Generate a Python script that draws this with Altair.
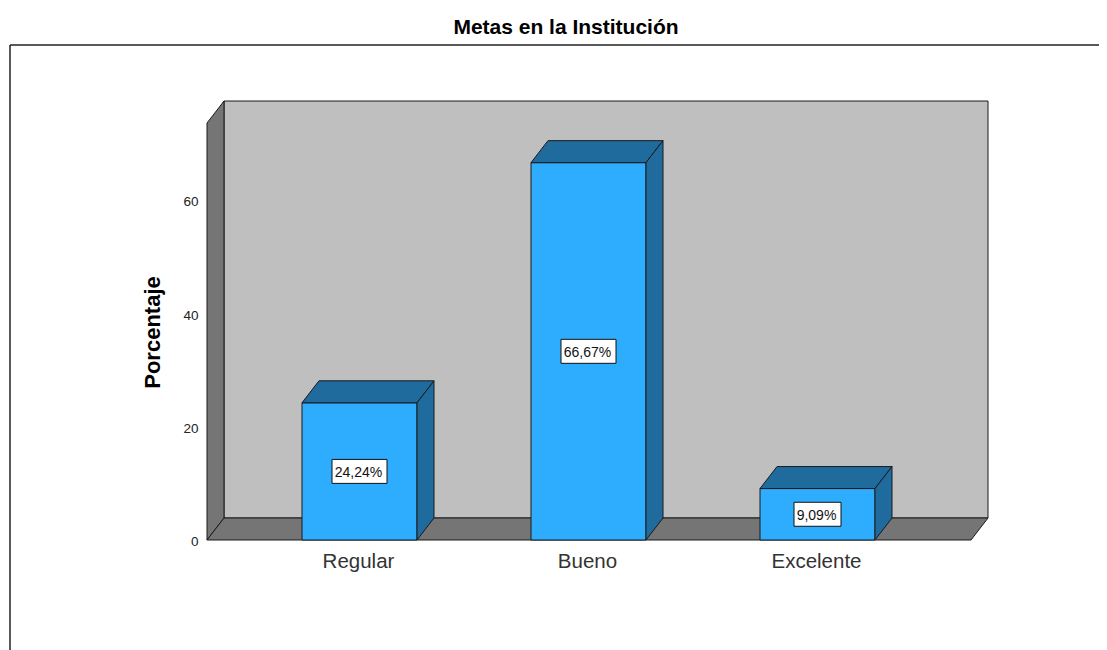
import json
import altair as alt
import pandas as pd

categories = ["Regular", "Bueno", "Excelente"]
percentages = [24.24, 66.67, 9.09]
y_ticks = [0, 20, 40, 60]

# Scale set-up: one category slot = 229 px, one percent = 5.66 px
SLOT = 229.0
UNIT = 5.66
W, H = 1089, 605
x_dom = [(10 - 359.5) / SLOT, (1099 - 359.5) / SLOT]
y_dom = [-(650 - 540) / UNIT, (540 - 45) / UNIT]
dx = 17 / SLOT
dy = 22 / UNIT
half = 57.5 / SLOT
wall_l = (207 - 359.5) / SLOT
wall_r = (971 - 359.5) / SLOT
wall_top = 73.67

xs = alt.Scale(domain=x_dom, nice=False, zero=False)
ys = alt.Scale(domain=y_dom, nice=False, zero=False)
EDGE = "#1a1a1a"
FONT = "Liberation Sans"

x_axis = alt.Axis(
    values=[0, 1, 2], ticks=False, domain=False, grid=False, offset=-100,
    labelExpr=f"{json.dumps(categories)}[datum.value]",
    labelFont=FONT, labelFontSize=20.5, labelColor="#333333", labelPadding=1,
    labelOverlap=False, labelOffset=-1.5,
)
y_axis = alt.Axis(
    values=y_ticks, ticks=False, domain=False, grid=False, offset=-193,
    labelFont=FONT, labelFontSize=13.5, labelColor="#222222", labelPadding=5, labelOffset=1.5,
    titleFont=FONT, titleFontSize=22, titleFontWeight="bold", titleColor="#000000",
    titleX=-39, titleY=287, titleAngle=270,
)


def X(f="x"):
    return alt.X(f"{f}:Q", scale=xs, axis=x_axis, title=None)


def Y(f="y"):
    return alt.Y(f"{f}:Q", scale=ys, axis=y_axis, title="Porcentaje")


def side_rows(name, x0, top, bottom=0.0):
    return [
        {"id": name, "x": x0, "y": top, "y2": bottom},
        {"id": name, "x": x0 + dx, "y": top + dy, "y2": bottom + dy},
    ]


def top_rows(name, x0, x1, v):
    return [
        {"id": name, "y": v, "x": x0, "x2": x1},
        {"id": name, "y": v + dy, "x": x0 + dx, "x2": x1 + dx},
    ]


def vert_area(rows, fill):
    return alt.Chart(pd.DataFrame(rows)).mark_area(
        fill=fill, stroke=EDGE, strokeWidth=1, opacity=1, line=False
    ).encode(x=X(), y=Y(), y2=alt.Y2("y2:Q"), detail="id:N")


def horiz_area(rows, fill):
    return alt.Chart(pd.DataFrame(rows)).mark_area(
        orient="horizontal", fill=fill, stroke=EDGE, strokeWidth=1, opacity=1, line=False
    ).encode(y=Y(), x=X(), x2=alt.X2("x2:Q"), detail="id:N")


back = alt.Chart(pd.DataFrame({"x": [wall_l + dx], "x2": [wall_r + dx], "y": [wall_top + dy], "y2": [dy]})).mark_rect(
    fill="#bfbfbf", stroke=EDGE, strokeWidth=1
).encode(x=X(), x2="x2:Q", y=Y(), y2="y2:Q")

left_wall = vert_area(side_rows("wall", wall_l, wall_top), "#757575")
floor = horiz_area(top_rows("floor", wall_l, wall_r, 0.0), "#757575")

bars_df = pd.DataFrame({
    "x": [i - half for i in range(3)],
    "x2": [i + half for i in range(3)],
    "y": percentages,
    "y2": [0.0] * 3,
})
fronts = alt.Chart(bars_df).mark_rect(fill="#2eadff", stroke=EDGE, strokeWidth=1).encode(
    x=X(), x2="x2:Q", y=Y(), y2="y2:Q"
)
tops_rows, sides_rows = [], []
for i, v in enumerate(percentages):
    tops_rows += top_rows(f"b{i}", i - half, i + half, v)
    sides_rows += side_rows(f"b{i}", i + half, v)
tops = horiz_area(tops_rows, "#1f6b9e")
sides = vert_area(sides_rows, "#1f6b9e")

texts = [f"{v:.2f}".replace(".", ",") + "%" for v in percentages]
box_half = [(len(t) * 8 + 7) / 2 / SLOT for t in texts]
box_df = pd.DataFrame({
    "x": [i - b for i, b in enumerate(box_half)],
    "x2": [i + b for i, b in enumerate(box_half)],
    "y": [v / 2 - 12 / UNIT for v in percentages],
    "y2": [v / 2 + 12 / UNIT for v in percentages],
})
boxes = alt.Chart(box_df).mark_rect(fill="#ffffff", stroke="#111111", strokeWidth=1).encode(
    x=X(), x2="x2:Q", y=Y(), y2="y2:Q"
)
labels = alt.Chart(pd.DataFrame({"x": [0, 1, 2], "y": [v / 2 for v in percentages], "t": texts})).mark_text(
    font=FONT, fontSize=14, color="#111111", baseline="middle", align="center", dx=-1, dy=1.5
).encode(x=X(), y=Y(), text="t:N")

frame_top = alt.Chart(pd.DataFrame({"a": [0]})).mark_rule(color="#222222", strokeWidth=1.5).encode(
    x=alt.value(0), x2=alt.value(W), y=alt.value(0)
)
frame_left = alt.Chart(pd.DataFrame({"a": [0]})).mark_rule(color="#222222", strokeWidth=1.5).encode(
    x=alt.value(0), y=alt.value(0), y2=alt.value(H)
)

chart = alt.layer(
    back, left_wall, floor, fronts, tops, sides, boxes, labels, frame_top, frame_left
).properties(
    width=W,
    height=H,
    padding={"left": 2, "top": 37, "right": 0, "bottom": 0},
    autosize=alt.AutoSizeParams(type="none"),
    title=alt.TitleParams(
        "Metas en la Institución", font=FONT, fontSize=21, fontWeight="bold", color="#000000",
        anchor="middle", dx=11.5, offset=6,
    ),
).configure_view(stroke=None)

chart.save("out.html", embed_options={"renderer": "svg", "actions": False})
